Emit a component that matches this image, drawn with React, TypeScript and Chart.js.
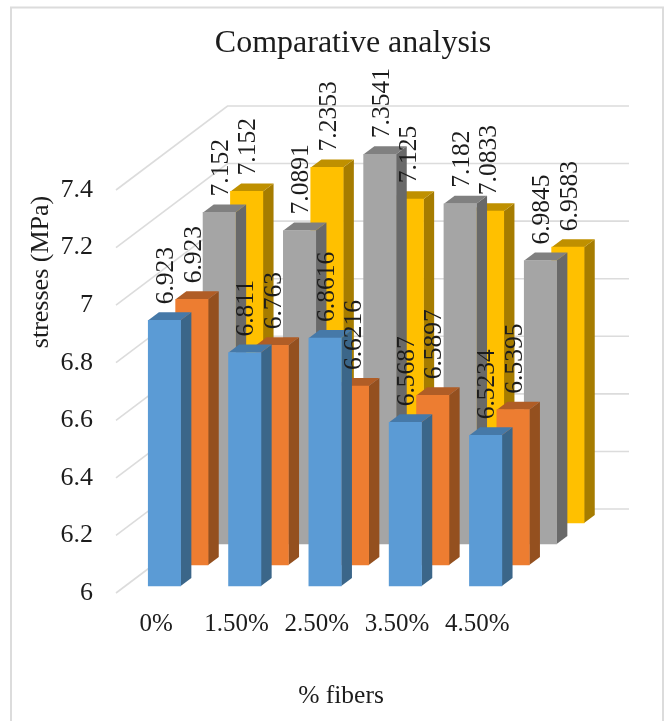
import React, { useEffect, useRef } from "react";
import { Chart, registerables } from "chart.js";

Chart.register(...registerables);

const categories = ["0%", "1.50%", "2.50%", "3.50%", "4.50%"];
const seriesA = [6.923, 6.811, 6.8616, 6.5687, 6.5234];
const seriesB = [6.923, 6.763, 6.6216, 6.5897, 6.5395];
const seriesC = [7.152, 7.0891, 7.3541, 7.182, 6.9845];
const seriesD = [7.152, 7.2353, 7.125, 7.0833, 6.9583];

const FONT = "'Liberation Serif', 'Times New Roman', serif";
const INK = "#1c1c1c";
const GRID = "#dcdcdc";

// Oblique projection: each row of bars steps back along this vector.
const ROW_DX = 27.4;
const ROW_DY = -21;
const FIRST_DX = 8.3;
const FIRST_DY = -7;
const BAR_DEPTH_X = 10.7;
const BAR_DEPTH_Y = 8;
const WALL_DX = 111.5;
const WALL_DY = -84;

const shades = [
  { side: "#3b6689", top: "#4679a8" },
  { side: "#94501f", top: "#b05d26" },
  { side: "#696969", top: "#808080" },
  { side: "#a67c00", top: "#bf9000" },
];

const rowOffset = (row: number) => ({
  dx: FIRST_DX + row * ROW_DX,
  dy: FIRST_DY + row * ROW_DY,
});

const polygon = (ctx: CanvasRenderingContext2D, pts: number[][], fill: string) => {
  ctx.beginPath();
  pts.forEach(([x, y], i) => (i ? ctx.lineTo(x, y) : ctx.moveTo(x, y)));
  ctx.closePath();
  ctx.fillStyle = fill;
  ctx.fill();
};

const frame3d = {
  id: "frame3d",
  afterLayout(chart: any) {
    // The heading is centred over the whole plot including its depth.
    if (chart.titleBlock) {
      chart.titleBlock.left = 40;
      chart.titleBlock.right = 666;
    }
  },
  beforeDraw(chart: any) {
    const { ctx, width, height } = chart;
    ctx.save();
    ctx.fillStyle = "#ffffff";
    ctx.fillRect(0, 0, width, height);
    ctx.strokeStyle = GRID;
    ctx.lineWidth = 2;
    ctx.strokeRect(11, 7.5, 652, height + 20);
    ctx.restore();
  },
  beforeDatasetsDraw(chart: any) {
    const { ctx, chartArea, scales } = chart;
    ctx.save();
    ctx.strokeStyle = GRID;
    ctx.lineWidth = 1.6;
    scales.y.ticks.forEach((t: any) => {
      const y = scales.y.getPixelForValue(t.value);
      ctx.beginPath();
      ctx.moveTo(chartArea.left, y);
      ctx.lineTo(chartArea.left + WALL_DX, y + WALL_DY);
      ctx.lineTo(chartArea.right + WALL_DX, y + WALL_DY);
      ctx.stroke();
    });
    ctx.restore();
  },
  beforeDatasetDraw(chart: any, args: any) {
    const { ctx } = chart;
    const { dx, dy } = rowOffset(args.index);
    const shade = shades[args.index];
    ctx.save();
    ctx.translate(dx, dy);
    args.meta.data.forEach((bar: any) => {
      const l = bar.x - bar.width / 2;
      const r = bar.x + bar.width / 2;
      polygon(ctx, [[r, bar.y], [r + BAR_DEPTH_X, bar.y - BAR_DEPTH_Y], [r + BAR_DEPTH_X, bar.base - BAR_DEPTH_Y], [r, bar.base]], shade.side);
      polygon(ctx, [[l, bar.y], [l + BAR_DEPTH_X, bar.y - BAR_DEPTH_Y], [r + BAR_DEPTH_X, bar.y - BAR_DEPTH_Y], [r, bar.y]], shade.top);
    });
  },
  afterDatasetDraw(chart: any) {
    chart.ctx.restore();
  },
  afterDatasetsDraw(chart: any) {
    const { ctx } = chart;
    ctx.save();
    ctx.fillStyle = INK;

    // Value labels sit above every bar, turned to read upwards.
    ctx.font = `25.5px ${FONT}`;
    ctx.textAlign = "left";
    ctx.textBaseline = "middle";
    chart.data.datasets.forEach((ds: any, row: number) => {
      const { dx, dy } = rowOffset(row);
      chart.getDatasetMeta(row).data.forEach((bar: any, i: number) => {
        ctx.save();
        ctx.translate(bar.x + dx + 2, bar.y + dy - 16);
        ctx.rotate(-Math.PI / 2);
        ctx.fillText(String(ds.data[i]), 0, 0);
        ctx.restore();
      });
    });

    // Axis captions.
    ctx.font = `25.5px ${FONT}`;
    ctx.textAlign = "center";
    ctx.textBaseline = "alphabetic";
    ctx.fillText("% fibers", 341, 703);
    ctx.save();
    ctx.translate(48, 272);
    ctx.rotate(-Math.PI / 2);
    ctx.font = `26px ${FONT}`;
    ctx.fillText("stresses (MPa)", 0, 0);
    ctx.restore();
    ctx.restore();
  },
};

export default function App() {
  const ref = useRef<HTMLCanvasElement>(null);

  useEffect(() => {
    const common = { clip: false as const, borderWidth: 0, barThickness: 32.4, grouped: false, base: 6 };
    const chart = new Chart(ref.current!, {
      type: "bar",
      data: {
        labels: categories,
        datasets: [
          { label: "Series 1", data: seriesA, backgroundColor: "#5b9bd5", ...common },
          { label: "Series 2", data: seriesB, backgroundColor: "#ed7d31", ...common },
          { label: "Series 3", data: seriesC, backgroundColor: "#a5a5a5", ...common },
          { label: "Series 4", data: seriesD, backgroundColor: "#ffc000", ...common },
        ],
      },
      options: {
        responsive: false,
        animation: false,
        layout: { padding: { left: 0, right: 148.5, top: 0, bottom: 0 } },
        plugins: {
          legend: { display: false },
          tooltip: { enabled: false },
          title: {
            display: true,
            text: "Comparative analysis",
            color: INK,
            font: { family: FONT, size: 32, weight: "normal", lineHeight: 1.2 },
            padding: { top: 24, bottom: 127.6 },
          },
        },
        scales: {
          x: {
            type: "category",
            afterFit: (s: any) => { s.height = 128; },
            grid: { display: false, drawTicks: false },
            border: { display: false },
            ticks: {
              color: INK,
              font: { family: FONT, size: 25 },
              padding: 16,
              autoSkip: false,
              maxRotation: 0,
              minRotation: 0,
            },
          },
          y: {
            type: "linear",
            min: 6,
            max: 7.4,
            afterFit: (s: any) => { s.width = 116; },
            grid: { display: false, drawTicks: false },
            border: { display: false },
            ticks: {
              stepSize: 0.2,
              color: INK,
              font: { family: FONT, size: 26 },
              padding: 23,
              callback: (v: any) => String(Number(Number(v).toFixed(1))),
            },
          },
        },
      },
      plugins: [frame3d],
    } as any);
    return () => chart.destroy();
  }, []);

  return (
    <canvas
      ref={ref}
      width={666}
      height={721}
      style={{ position: "absolute", left: 0, top: 0, display: "block" }}
    />
  );
}
